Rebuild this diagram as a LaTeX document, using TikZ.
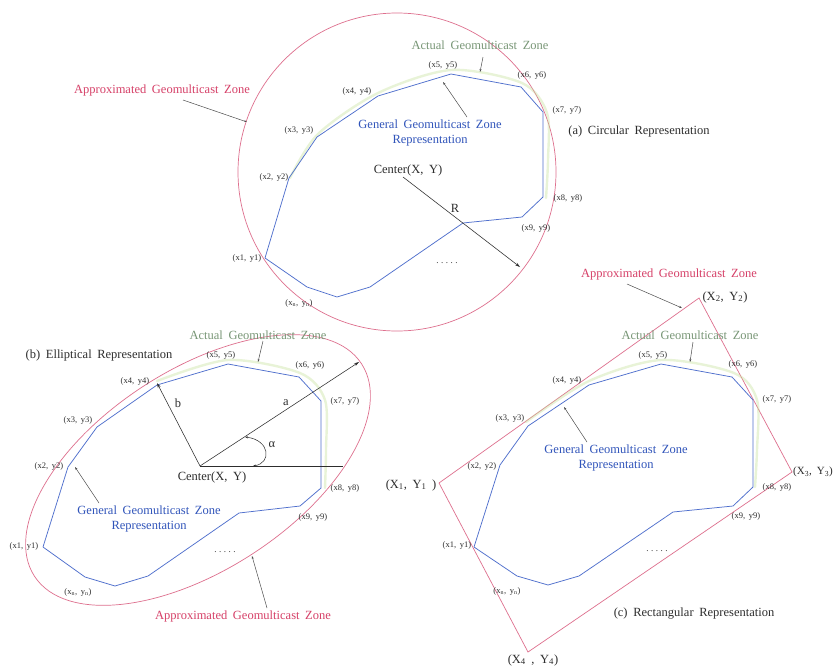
\documentclass[tikz,border=0pt]{standalone}
\usepackage{fontspec}
\setmainfont{Liberation Serif}[WordSpace=1.8]
\usetikzlibrary{arrows.meta}

\definecolor{zonered}{RGB}{214,64,104}
\definecolor{zoneline}{RGB}{222,112,142}
\definecolor{polyblue}{RGB}{80,112,205}
\definecolor{textblue}{RGB}{48,84,186}
\definecolor{actualgreen}{RGB}{120,150,118}
\definecolor{haze}{RGB}{196,224,150}
\definecolor{ink}{RGB}{45,45,45}

\tikzset{
  approx/.style={draw=zoneline, line width=0.7pt},
  poly/.style={draw=polyblue, line width=0.75pt, line join=round},
  actual/.style={draw=haze, line width=2.4pt, opacity=0.38, line cap=round},
  leader/.style={draw=ink!85, line width=0.5pt, -{Stealth[length=3pt,width=2pt]}},
  vector/.style={draw=ink, line width=0.55pt, -{Stealth[length=5pt,width=3pt]}},
  ptlabel/.style={font=\fontsize{8.5}{10}\selectfont, text=ink, inner sep=0pt},
  captxt/.style={font=\fontsize{12.5}{14}\selectfont, text=ink, inner sep=0pt},
  redtxt/.style={captxt, text=zonered},
  greentxt/.style={captxt, text=actualgreen},
  bluetxt/.style={font=\fontsize{12.5}{14.5}\selectfont, text=textblue, align=center, inner sep=0pt},
  dotstxt/.style={font=\fontsize{9}{10}\selectfont, text=ink, inner sep=0pt, anchor=base}
}
\newcommand{\fivedots}{.\hspace{2.5pt}.\hspace{2.5pt}.\hspace{2.5pt}.\hspace{2.5pt}.}

\begin{document}
\begin{tikzpicture}[x=1pt, y=-1pt]
\useasboundingbox (0,0) rectangle (834,667);
\fill[white] (0,0) rectangle (834,667);

%%%%%%%%%%%%%%%% (a) circular representation %%%%%%%%%%%%%%%%
\coordinate (ca-c) at (397,172);
\draw[approx] (ca-c) circle [radius=159];
\draw[actual] plot[smooth] coordinates {(290,178) (318,134) (378,93) (451,70) (522,83) (547,113) (548,160) (546,198)};
\draw[poly] (265,258) -- (289,178) -- (317,137) -- (378,96) -- (451,74) -- (521,87)
  -- (543,112) -- (543,197) -- (522,217) -- (463,223) -- (370,287) -- (337,297)
  -- (307,287) -- cycle;

\node[ptlabel] (ca-p1) at (247,258) {(x1, y1)};
\node[ptlabel] (ca-p2) at (274,177) {(x2, y2)};
\node[ptlabel] (ca-p3) at (299,130) {(x3, y3)};
\node[ptlabel] (ca-p4) at (357,91) {(x4, y4)};
\node[ptlabel] (ca-p5) at (443,65) {(x5, y5)};
\node[ptlabel] (ca-p6) at (532,75) {(x6, y6)};
\node[ptlabel] (ca-p7) at (567,110) {(x7, y7)};
\node[ptlabel] (ca-p8) at (568,198) {(x8, y8)};
\node[ptlabel] (ca-p9) at (536,228) {(x9, y9)};
\node[ptlabel] (ca-pn) at (299,303) {(x\textsubscript{n}, y\textsubscript{n})};
\node[dotstxt] (ca-dots) at (447,263) {\fivedots};

\node[greentxt] (ca-actual) at (480,45) {Actual Geomulticast Zone};
\node[bluetxt] (ca-general) at (430,133) {General Geomulticast Zone\\Representation};
\node[redtxt] (ca-approx) at (162,90) {Approximated Geomulticast Zone};
\node[captxt] (ca-title) at (639,131) {(a) Circular Representation};
\node[captxt] (ca-center) at (408,170) {Center(X, Y)};
\node[captxt] (ca-r) at (455,208) {R};

\coordinate (ca-actual-from) at (483,57);   \coordinate (ca-actual-to) at (480,72);
\coordinate (ca-general-from) at (467,117); \coordinate (ca-general-to) at (443,82);
\coordinate (ca-approx-from) at (183,100);  \coordinate (ca-approx-to) at (247,122);
\coordinate (ca-r-from) at (403,177);       \coordinate (ca-r-to) at (520,267);
\draw[leader] (ca-actual-from) -- (ca-actual-to);
\draw[leader] (ca-general-from) -- (ca-general-to);
\draw[leader] (ca-approx-from) -- (ca-approx-to);
\draw[vector] (ca-r-from) -- (ca-r-to);

%%%%%%%%%%%%%%%% (b) elliptical representation %%%%%%%%%%%%%%%%
\coordinate (cb-c) at (198,470);
\draw[approx, rotate around={33:(cb-c)}] (cb-c) ellipse [x radius=195, y radius=100];
\draw[actual] plot[smooth] coordinates {(157,381) (228,360) (300,373) (325,400) (326,450) (325,488)};
\draw[poly] (43,547) -- (68,467) -- (97,427) -- (157,385) -- (228,364) -- (299,377)
  -- (321,401) -- (321,488) -- (300,506) -- (239,513) -- (148,576) -- (115,586)
  -- (85,577) -- cycle;

\node[ptlabel] (cb-p1) at (24,546) {(x1, y1)};
\node[ptlabel] (cb-p2) at (49,466) {(x2, y2)};
\node[ptlabel] (cb-p3) at (78,420) {(x3, y3)};
\node[ptlabel] (cb-p4) at (135,381) {(x4, y4)};
\node[ptlabel] (cb-p5) at (221,355) {(x5, y5)};
\node[ptlabel] (cb-p6) at (310,365) {(x6, y6)};
\node[ptlabel] (cb-p7) at (345,401) {(x7, y7)};
\node[ptlabel] (cb-p8) at (345,488) {(x8, y8)};
\node[ptlabel] (cb-p9) at (313,517) {(x9, y9)};
\node[ptlabel] (cb-pn) at (78,592) {(x\textsubscript{n}, y\textsubscript{n})};
\node[dotstxt] (cb-dots) at (225,552) {\fivedots};

\node[greentxt] (cb-actual) at (258,335) {Actual Geomulticast Zone};
\node[bluetxt] (cb-general) at (149,519) {General Geomulticast Zone\\Representation};
\node[redtxt] (cb-approx) at (243,616) {Approximated Geomulticast Zone};
\node[captxt] (cb-title) at (99,355) {(b) Elliptical Representation};
\node[captxt] (cb-center) at (212,477) {Center(X, Y)};
\node[captxt] (cb-a) at (286,403) {a};
\node[captxt] (cb-b) at (178,403) {b};
\node[captxt] (cb-alpha) at (272,445) {α};

\coordinate (cb-o) at (200,466);
\coordinate (cb-aend) at (359,362);
\coordinate (cb-bend) at (157,383);
\coordinate (cb-hend) at (343,466);
\coordinate (cb-arc1) at (245,437);
\coordinate (cb-arc2) at (253,466);
\draw[vector] (cb-o) -- (cb-aend);
\draw[vector] (cb-o) -- (cb-bend);
\draw[draw=ink, line width=0.55pt] (cb-o) -- (cb-hend);
\draw[draw=ink, line width=0.5pt, {Stealth[length=3pt,width=2pt]}-{Stealth[length=3pt,width=2pt]}]
  (cb-arc1) .. controls (270,440) and (272,463) .. (cb-arc2);

\coordinate (cb-actual-from) at (263,341);  \coordinate (cb-actual-to) at (258,362);
\coordinate (cb-general-from) at (99,503);  \coordinate (cb-general-to) at (75,467);
\coordinate (cb-approx-from) at (267,608);  \coordinate (cb-approx-to) at (252,556);
\draw[leader] (cb-actual-from) -- (cb-actual-to);
\draw[leader] (cb-general-from) -- (cb-general-to);
\draw[leader] (cb-approx-from) -- (cb-approx-to);

%%%%%%%%%%%%%%%% (c) rectangular representation %%%%%%%%%%%%%%%%
\coordinate (cc-k1) at (439,483);
\coordinate (cc-k2) at (699,298);
\coordinate (cc-k3) at (792,472);
\coordinate (cc-k4) at (528,652);
\draw[approx] (cc-k1) -- (cc-k2) -- (cc-k3) -- (cc-k4) -- cycle;
\draw[actual] plot[smooth] coordinates {(526,422) (589,381) (661,360) (734,373) (757,400) (757,450) (755,487)};
\draw[poly] (474,547) -- (500,465) -- (528,426) -- (589,385) -- (661,364) -- (732,377)
  -- (753,400) -- (753,487) -- (733,506) -- (673,512) -- (579,576) -- (548,585)
  -- (517,576) -- cycle;

\node[ptlabel] (cc-p1) at (457,545) {(x1, y1)};
\node[ptlabel] (cc-p2) at (482,466) {(x2, y2)};
\node[ptlabel] (cc-p3) at (510,418) {(x3, y3)};
\node[ptlabel] (cc-p4) at (567,380) {(x4, y4)};
\node[ptlabel] (cc-p5) at (653,355) {(x5, y5)};
\node[ptlabel] (cc-p6) at (743,364) {(x6, y6)};
\node[ptlabel] (cc-p7) at (777,399) {(x7, y7)};
\node[ptlabel] (cc-p8) at (777,487) {(x8, y8)};
\node[ptlabel] (cc-p9) at (746,516) {(x9, y9)};
\node[ptlabel] (cc-pn) at (507,591) {(x\textsubscript{n}, y\textsubscript{n})};
\node[dotstxt] (cc-dots) at (657,551) {\fivedots};

\node[captxt] (cc-q1) at (411,485) {(X\textsubscript{1}, Y\textsubscript{1} )};
\node[captxt] (cc-q2) at (725,297) {(X\textsubscript{2}, Y\textsubscript{2})};
\node[captxt, font=\fontsize{11}{13}\selectfont, anchor=east] (cc-q3) at (833,472) {(X\textsubscript{3}, Y\textsubscript{3})};
\node[captxt] (cc-q4) at (533,660) {(X\textsubscript{4} , Y\textsubscript{4})};

\node[greentxt] (cc-actual) at (690,335) {Actual Geomulticast Zone};
\node[bluetxt] (cc-general) at (616,458) {General Geomulticast Zone\\Representation};
\node[redtxt] (cc-approx) at (669,274) {Approximated Geomulticast Zone};
\node[captxt] (cc-title) at (694,613) {(c) Rectangular Representation};

\coordinate (cc-approx-from) at (627,284);  \coordinate (cc-approx-to) at (682,308);
\coordinate (cc-actual-from) at (693,342);  \coordinate (cc-actual-to) at (690,362);
\coordinate (cc-general-from) at (587,442); \coordinate (cc-general-to) at (564,407);
\draw[leader] (cc-approx-from) -- (cc-approx-to);
\draw[leader] (cc-actual-from) -- (cc-actual-to);
\draw[leader] (cc-general-from) -- (cc-general-to);
\end{tikzpicture}
\end{document}
